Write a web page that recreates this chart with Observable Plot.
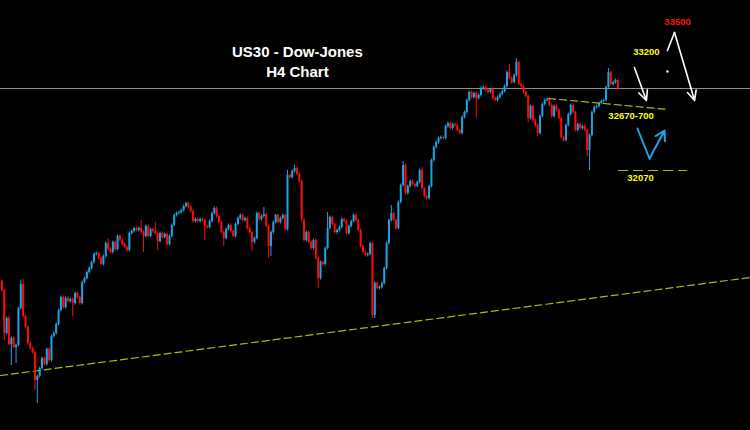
<!DOCTYPE html>
<html><head><meta charset="utf-8">
<script src="https://cdn.jsdelivr.net/npm/d3@7"></script>
<script src="https://cdn.jsdelivr.net/npm/@observablehq/plot@0.6"></script>
<style>html,body{margin:0;padding:0;background:#000;overflow:hidden}</style>
</head><body><div id="chart"></div>
<script>
// US30 H4 candles (prices)
const firstOpen = 30960;
const closes = [
30870,30440,30590,30330,30390,30300,30320,30690,30930,30610,
30500,30340,30290,30250,29970,30010,30090,30190,30130,30280,
30170,30410,30440,30530,30670,30800,30700,30790,30760,30780,
30740,30840,30800,30740,30950,30990,31050,31090,31150,31230,
31240,31190,31130,31210,31340,31280,31250,31350,31280,31410,
31370,31330,31300,31270,31440,31460,31490,31470,31490,31450,
31410,31510,31410,31480,31460,31440,31360,31440,31400,31430,
31330,31410,31520,31620,31640,31650,31670,31710,31740,31700,
31660,31560,31580,31560,31580,31570,31510,31500,31560,31640,
31690,31610,31550,31450,31390,31480,31520,31460,31410,31530,
31590,31620,31570,31590,31490,31450,31350,31390,31640,31580,
31610,31630,31510,31310,31450,31550,31620,31550,31590,31620,
31480,32020,32000,32060,32090,32030,31960,31570,31370,31450,
31350,31290,31370,31190,30990,31150,31130,31290,31490,31600,
31530,31450,31470,31500,31580,31560,31440,31510,31560,31620,
31570,31470,31310,31250,31220,31230,31340,30620,30940,30890,
30900,30940,31090,31340,31570,31640,31570,31490,31750,31920,
32120,31840,31910,31960,31930,31910,31950,32070,31890,31810,
31790,31910,32170,32300,32350,32390,32400,32390,32510,32540,
32490,32530,32520,32470,32440,32600,32650,32770,32850,32800,
32840,32790,32820,32890,32900,32870,32850,32880,32790,32770,
32800,32830,32860,32910,33050,32990,32950,33020,33150,32930,
32910,32850,32810,32590,32710,32570,32520,32440,32610,32730,
32770,32780,32720,32610,32710,32670,32590,32400,32370,32520,
32630,32720,32650,32470,32530,32490,32510,32470,32270,32420,
32650,32700,32710,32740,32760,32770,32900,33050,32930,32950,
32970,32890
];
// candles with long wicks: [bar index, extreme price]
const longHighs = [[8,30970],[9,30980],[45,31390],[59,31570],[65,31550],[111,31700],
  [121,32070],[124,32120],[138,31650],[165,31720],[170,32160],[178,32100],[215,33130],
  [218,33190],[257,33090]];
const longLows = [[1,30370],[4,30120],[6,30140],[14,29870],[15,29740],[30,30610],
  [60,31250],[66,31270],[86,31370],[94,31310],[106,31260],[113,31190],[114,31210],
  [134,30890],[157,30590],[158,30590],[201,32600],[223,32550],[227,32410],[248,32210],
  [249,32070]];
const shortWick = 15;

// annotations
const currentPrice = 32890;
const supportLine = [{i: -0.6, p: 30020}, {i: 317.2, p: 31000}];
const neckLine = [{i: 231.6, p: 32790}, {i: 282.5, p: 32680}];
const targetLine = [{i: 261.3, p: 32070}, {i: 290.1, p: 32070}];
const titleLines = [{i: 125.2, p: 33255, t: "US30 - Dow-Jones"}, {i: 125.2, p: 33055, t: "H4 Chart"}];
const levelLabels = [
  {i: 286.3, p: 33560, t: "33500", c: "#ff1010"},
  {i: 273.1, p: 33260, t: "33200", c: "#ffff00"},
  {i: 266.6, p: 32620, t: "32670-700", c: "#ffff00"},
  {i: 270.6, p: 31995, t: "32070", c: "#ffff00"}
];
const arrow1 = {x1: 268.0, y1: 33100, x2: 273.1, y2: 32770};
const arrow2Path = [{i: 282.0, p: 33270}, {i: 285.0, p: 33450}];
const arrow2 = {x1: 285.0, y1: 33450, x2: 293.5, y2: 32770};
const dotPt = [{i: 282.0, p: 33060}];
const blueVPath = [{i: 269.3, p: 32490}, {i: 274.4, p: 32190}];
const blueArrow = {x1: 274.4, y1: 32190, x2: 280.8, y2: 32470};

const hiMap = new Map(longHighs), loMap = new Map(longLows);
const candles = closes.map((c, i) => {
  const o = i === 0 ? firstOpen : closes[i - 1];
  const top = Math.max(o, c), bot = Math.min(o, c);
  return {i, open: o, close: c, up: c >= o,
    high: hiMap.has(i) ? hiMap.get(i) : top + shortWick,
    low: loMap.has(i) ? loMap.get(i) : bot - shortWick};
});
const up = candles.filter(d => d.up), down = candles.filter(d => !d.up);
const BLUE = "#1ea4e4", RED = "#ff0a0a", OLIVE = "#b9b900";
const font = "Liberation Sans, Arial, sans-serif";

const chart = Plot.plot({
  width: 750, height: 430, margin: 0,
  x: {domain: [-0.6, 317.2], axis: null},
  y: {domain: [29470, 33770], axis: null},
  style: {background: "#000", overflow: "visible"},
  marks: [
    Plot.ruleY([currentPrice], {stroke: "#8d8d8d", strokeWidth: 1}),
    Plot.line(supportLine, {x: "i", y: "p", stroke: OLIVE, strokeWidth: 1.2, strokeDasharray: "7,4"}),
    Plot.ruleX(up, {x: "i", y1: "low", y2: "high", stroke: BLUE, strokeWidth: 1}),
    Plot.ruleX(down, {x: "i", y1: "low", y2: "high", stroke: RED, strokeWidth: 1}),
    Plot.ruleX(up, {x: "i", y1: "open", y2: "close", stroke: BLUE, strokeWidth: 2}),
    Plot.ruleX(down, {x: "i", y1: "open", y2: "close", stroke: RED, strokeWidth: 2}),
    Plot.line(neckLine, {x: "i", y: "p", stroke: OLIVE, strokeWidth: 1.2, strokeDasharray: "7,4"}),
    Plot.line(targetLine, {x: "i", y: "p", stroke: OLIVE, strokeWidth: 1.2, strokeDasharray: "9,6"}),
    Plot.text(titleLines, {x: "i", y: "p", text: "t", fill: "#fff", fontSize: 15, fontWeight: "bold", fontFamily: font}),
    Plot.text(levelLabels, {x: "i", y: "p", text: "t", fill: "c", fontSize: 9.5, fontWeight: "bold", fontFamily: font}),
    Plot.arrow([arrow1], {x1: "x1", y1: "y1", x2: "x2", y2: "y2", stroke: "#fff", strokeWidth: 1.6, headLength: 10, headAngle: 50}),
    Plot.line(arrow2Path, {x: "i", y: "p", stroke: "#fff", strokeWidth: 1.6}),
    Plot.arrow([arrow2], {x1: "x1", y1: "y1", x2: "x2", y2: "y2", stroke: "#fff", strokeWidth: 1.6, headLength: 10, headAngle: 50}),
    Plot.dot(dotPt, {x: "i", y: "p", r: 1.2, fill: "#fff"}),
    Plot.line(blueVPath, {x: "i", y: "p", stroke: BLUE, strokeWidth: 2}),
    Plot.arrow([blueArrow], {x1: "x1", y1: "y1", x2: "x2", y2: "y2", stroke: BLUE, strokeWidth: 2, headLength: 8, headAngle: 60})
  ]
});
document.getElementById("chart").append(chart);
</script>
</body></html>
